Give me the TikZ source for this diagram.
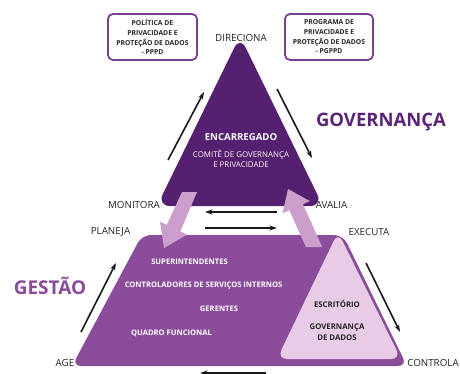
\documentclass[tikz,border=0pt]{standalone}
\usepackage{fontspec}
\setmainfont{Open Sans}
\definecolor{darkpurple}{HTML}{55206F}
\definecolor{midpurple}{HTML}{8B4C9B}
\definecolor{lightarrow}{HTML}{CC9ECC}
\definecolor{paleviolet}{HTML}{E8CBE6}
\definecolor{boxborder}{HTML}{7B3F8F}
\definecolor{titlepurple}{HTML}{5B2479}
\definecolor{labelgray}{HTML}{222222}
\tikzset{
  lbl/.style={text=labelgray, font=\fontsize{9.8}{11}\selectfont, inner sep=0pt},
  wlbl/.style={text=white, font=\bfseries\fontsize{7.6}{9}\selectfont, inner sep=0pt},
  dlbl/.style={text=black!85, font=\bfseries\fontsize{7.8}{11}\selectfont, inner sep=0pt, align=center},
  docbox/.style={draw=boxborder, line width=1.8pt, rounded corners=5pt, fill=white},
  doctext/.style={text=black!85, font=\bfseries\fontsize{6.8}{9.7}\selectfont, align=center, inner sep=0pt},
  flowarrow/.style={-{Stealth[length=7.5pt,width=5pt]}, line width=1.6pt, black!90},
  bigarrow/.style={fill=lightarrow, draw=none},
}
\usetikzlibrary{arrows.meta}
\begin{document}
\begin{tikzpicture}[x=1pt,y=-1pt]
\useasboundingbox (0,0) rectangle (460,374);
\clip (0,0) rectangle (460,374);
% trapezoid (management)
\fill[midpurple, rounded corners=9pt] (142,235) -- (343,235) -- (407,366) -- (72,366) -- cycle;
% inner triangle (office)
\fill[paleviolet, rounded corners=10pt] (338,232) -- (401,359) -- (277,359) -- cycle;
% top triangle (governance)
\fill[darkpurple, rounded corners=13pt] (240,36) -- (323,206) -- (157,206) -- cycle;
% big light arrows
\fill[bigarrow] (182,192) -- (197,192) -- (180.3,231.5) -- (187.0,234.7) -- (164,248) -- (160.0,221.7) -- (166.8,224.9) -- cycle;
\fill[bigarrow] (322.2,247) -- (303.0,204.2) -- (309.9,201.1) -- (288,189) -- (282.5,213.3) -- (289.4,210.3) -- (305.9,247) -- cycle;
% document boxes
\node[docbox, minimum width=89pt, minimum height=46pt] (pppd) at (152.5,37) {};
\node[doctext] (pppdtxt) at (pppd.center) {POLÍTICA DE\\PRIVACIDADE E\\PROTEÇÃO DE DADOS\\- PPPD};
\node[docbox, minimum width=88pt, minimum height=46pt] (pgppd) at (329,37) {};
\node[doctext] (pgppdtxt) at (pgppd.center) {PROGRAMA DE\\PRIVACIDADE E\\PROTEÇÃO DE DADOS\\- PGPPD};
% titles
\node[text=titlepurple, font=\bfseries\fontsize{18.5}{20}\selectfont, inner sep=0pt] (gov) at (381,122) {GOVERNANÇA};
\node[text=midpurple, font=\bfseries\fontsize{19}{20}\selectfont, inner sep=0pt] (gest) at (50,286) {GESTÃO};
% top triangle texts
\node[text=white, font=\bfseries\fontsize{9.6}{11}\selectfont, inner sep=0pt] (enc) at (241,137) {ENCARREGADO};
\node[text=white!88!pink, font=\fontsize{7.9}{10}\selectfont, inner sep=0pt, align=center] (comite) at (241,159) {COMITÊ DE GOVERNANÇA\\E PRIVACIDADE};
% management texts
\node[wlbl] (sup) at (189.5,262) {SUPERINTENDENTES};
\node[wlbl] (ctrl) at (203.5,286) {CONTROLADORES DE SERVIÇOS INTERNOS};
\node[wlbl] (ger) at (219,309) {GERENTES};
\node[wlbl] (quad) at (171.5,333) {QUADRO FUNCIONAL};
% office texts
\node[dlbl] (esc) at (337,304) {ESCRITÓRIO};
\node[dlbl] (govd) at (337,332) {GOVERNANÇA\\DE DADOS};
% cycle labels
\node[lbl] (direciona) at (241,38) {DIRECIONA};
\node[lbl] (monitora) at (134,205) {MONITORA};
\node[lbl] (avalia) at (331.5,205) {AVALIA};
\node[lbl] (planeja) at (110.5,232) {PLANEJA};
\node[lbl] (executa) at (369,232) {EXECUTA};
\node[lbl] (age) at (65,363) {AGE};
\node[lbl] (controla) at (433,363) {CONTROLA};
% flow arrow anchors
\coordinate (a1s) at (168,160); \coordinate (a1e) at (204,92);
\coordinate (a2s) at (277,89);  \coordinate (a2e) at (312,158);
\coordinate (a3s) at (277,212); \coordinate (a3e) at (205,212);
\coordinate (a4s) at (205,228); \coordinate (a4e) at (277,228);
\coordinate (a5s) at (81,332);  \coordinate (a5e) at (116,263);
\coordinate (a6s) at (366,263); \coordinate (a6e) at (400,332);
\coordinate (a7s) at (266,373); \coordinate (a7e) at (200,373);
\draw[flowarrow] (a1s) -- (a1e);
\draw[flowarrow] (a2s) -- (a2e);
\draw[flowarrow] (a3s) -- (a3e);
\draw[flowarrow] (a4s) -- (a4e);
\draw[flowarrow] (a5s) -- (a5e);
\draw[flowarrow] (a6s) -- (a6e);
\draw[flowarrow] (a7s) -- (a7e);
\end{tikzpicture}
\end{document}
